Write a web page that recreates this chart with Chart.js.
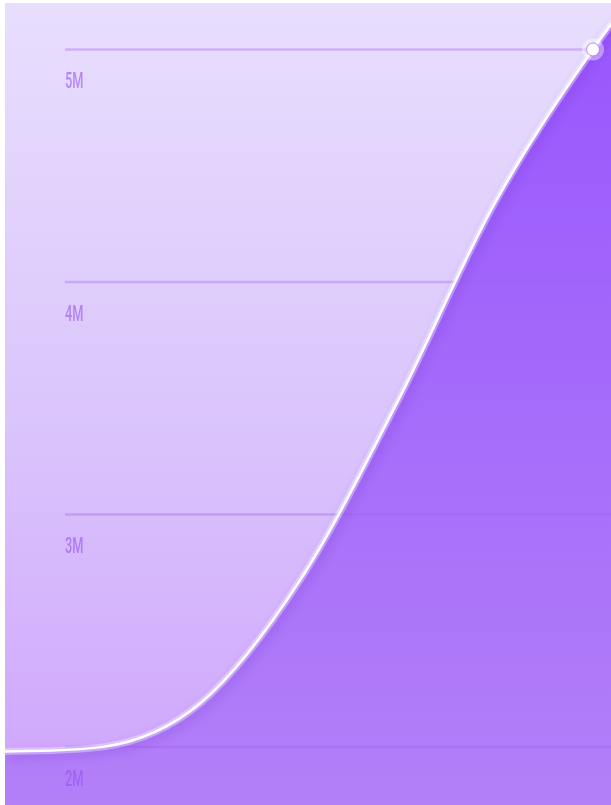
<!DOCTYPE html>
<html>
<head>
<meta charset="utf-8">
<script src="https://cdn.jsdelivr.net/npm/chart.js@4"></script>
<style>
  html, body { margin: 0; padding: 0; background: #fff; }
  #wrap { position: absolute; left: 5px; top: 3px; width: 606px; height: 802px; }
</style>
</head>
<body>
<div id="wrap"><canvas id="myChart"></canvas></div>
<script>
// x positions of the samples (the last one runs off the right edge)
const steps = [0, 1, 2, 3, 4, 5, 6, 7];
const totals = [1980000, 2000000, 2190000, 2710000, 3480000, 4340000, 5000000, 5550000];
const tickValues = [2000000, 3000000, 4000000, 5000000];
const tickLabels = ["2M", "3M", "4M", "5M"];
const currentIndex = 6;

const points = steps.map((s, i) => ({ x: s, y: totals[i] }));
const marker = [{ x: steps[currentIndex], y: totals[currentIndex] }];

const fillGradient = (context) => {
  const { ctx, chartArea } = context.chart;
  if (!chartArea) return "#a56afa";
  const g = ctx.createLinearGradient(0, chartArea.top, 0, chartArea.bottom);
  g.addColorStop(0, "#9955fd");
  g.addColorStop(0.5, "#a56bfa");
  g.addColorStop(1, "#b380f8");
  return g;
};

const drawGrid = (chart) => {
  const { ctx, chartArea: a } = chart;
  const y = chart.scales.y;
  ctx.save();
  tickValues.forEach((v, i) => {
    const py = y.getPixelForValue(v);
    ctx.strokeStyle = "rgba(160, 95, 240, 0.35)";
    ctx.lineWidth = 2.5;
    ctx.beginPath();
    ctx.moveTo(a.left + 60, py);
    ctx.lineTo(a.right, py);
    ctx.stroke();

    ctx.save();
    ctx.translate(a.left + 60, py + 39);
    ctx.scale(0.58, 1);
    ctx.font = "500 22px Roboto";
    ctx.fillStyle = "rgba(150, 80, 240, 0.6)";
    ctx.textBaseline = "alphabetic";
    ctx.fillText(tickLabels[i], 0, 0);
    ctx.restore();
  });
  ctx.restore();
};

const backdrop = {
  id: "backdrop",
  beforeDraw(chart) {
    const { ctx, chartArea: a } = chart;
    const g = ctx.createLinearGradient(0, a.top, 0, a.bottom);
    g.addColorStop(0, "#e8defd");
    g.addColorStop(0.5, "#dbc6fc");
    g.addColorStop(1, "#cfa4fc");
    ctx.save();
    ctx.fillStyle = g;
    ctx.fillRect(0, 0, chart.width, chart.height);
    ctx.restore();
  },
  // soft dark shadow under the glow line
  beforeDatasetDraw(chart, args) {
    if (args.index !== 1) return;
    const ctx = chart.ctx;
    ctx.save();
    ctx.shadowColor = "rgba(95, 30, 200, 0.55)";
    ctx.shadowBlur = 10;
    ctx.shadowOffsetX = 3;
    ctx.shadowOffsetY = 4;
  },
  afterDatasetDraw(chart, args) {
    if (args.index === 1) chart.ctx.restore();
    // grid and labels sit on the fill, under the line
    if (args.index === 0) drawGrid(chart);
  },
};

const ctx = document.getElementById("myChart").getContext("2d");
new Chart(ctx, {
  type: "line",
  data: {
    datasets: [
      {
        data: points,
        order: 4,
        borderWidth: 0,
        pointRadius: 0,
        fill: "start",
        backgroundColor: fillGradient,
        cubicInterpolationMode: "monotone",
      },
      {
        data: points,
        order: 3,
        borderColor: "rgba(255, 255, 255, 0.35)",
        borderWidth: 7,
        pointRadius: 0,
        fill: false,
        cubicInterpolationMode: "monotone",
      },
      {
        data: marker,
        order: 2,
        showLine: false,
        pointRadius: 11,
        pointBackgroundColor: "rgba(255, 255, 255, 0.4)",
        pointBorderWidth: 0,
      },
      {
        data: points,
        order: 1,
        borderColor: "#ffffff",
        borderWidth: 2.5,
        fill: false,
        cubicInterpolationMode: "monotone",
        pointRadius: steps.map((s, i) => (i === currentIndex ? 6.5 : 0)),
        pointBackgroundColor: "#ffffff",
        pointBorderColor: "rgba(170, 110, 245, 0.8)",
        pointBorderWidth: 1,
      },
    ],
  },
  options: {
    responsive: true,
    maintainAspectRatio: false,
    animation: false,
    layout: { padding: 0, autoPadding: false },
    plugins: { legend: { display: false }, tooltip: { enabled: false } },
    scales: {
      x: { type: "linear", min: 0, max: 606 / 98, display: false },
      y: {
        type: "linear",
        min: 1750000,
        max: 5200000,
        display: false,
        afterBuildTicks: (scale) => {
          scale.ticks = tickValues.map((v) => ({ value: v }));
        },
      },
    },
  },
  plugins: [backdrop],
});
</script>
</body>
</html>
